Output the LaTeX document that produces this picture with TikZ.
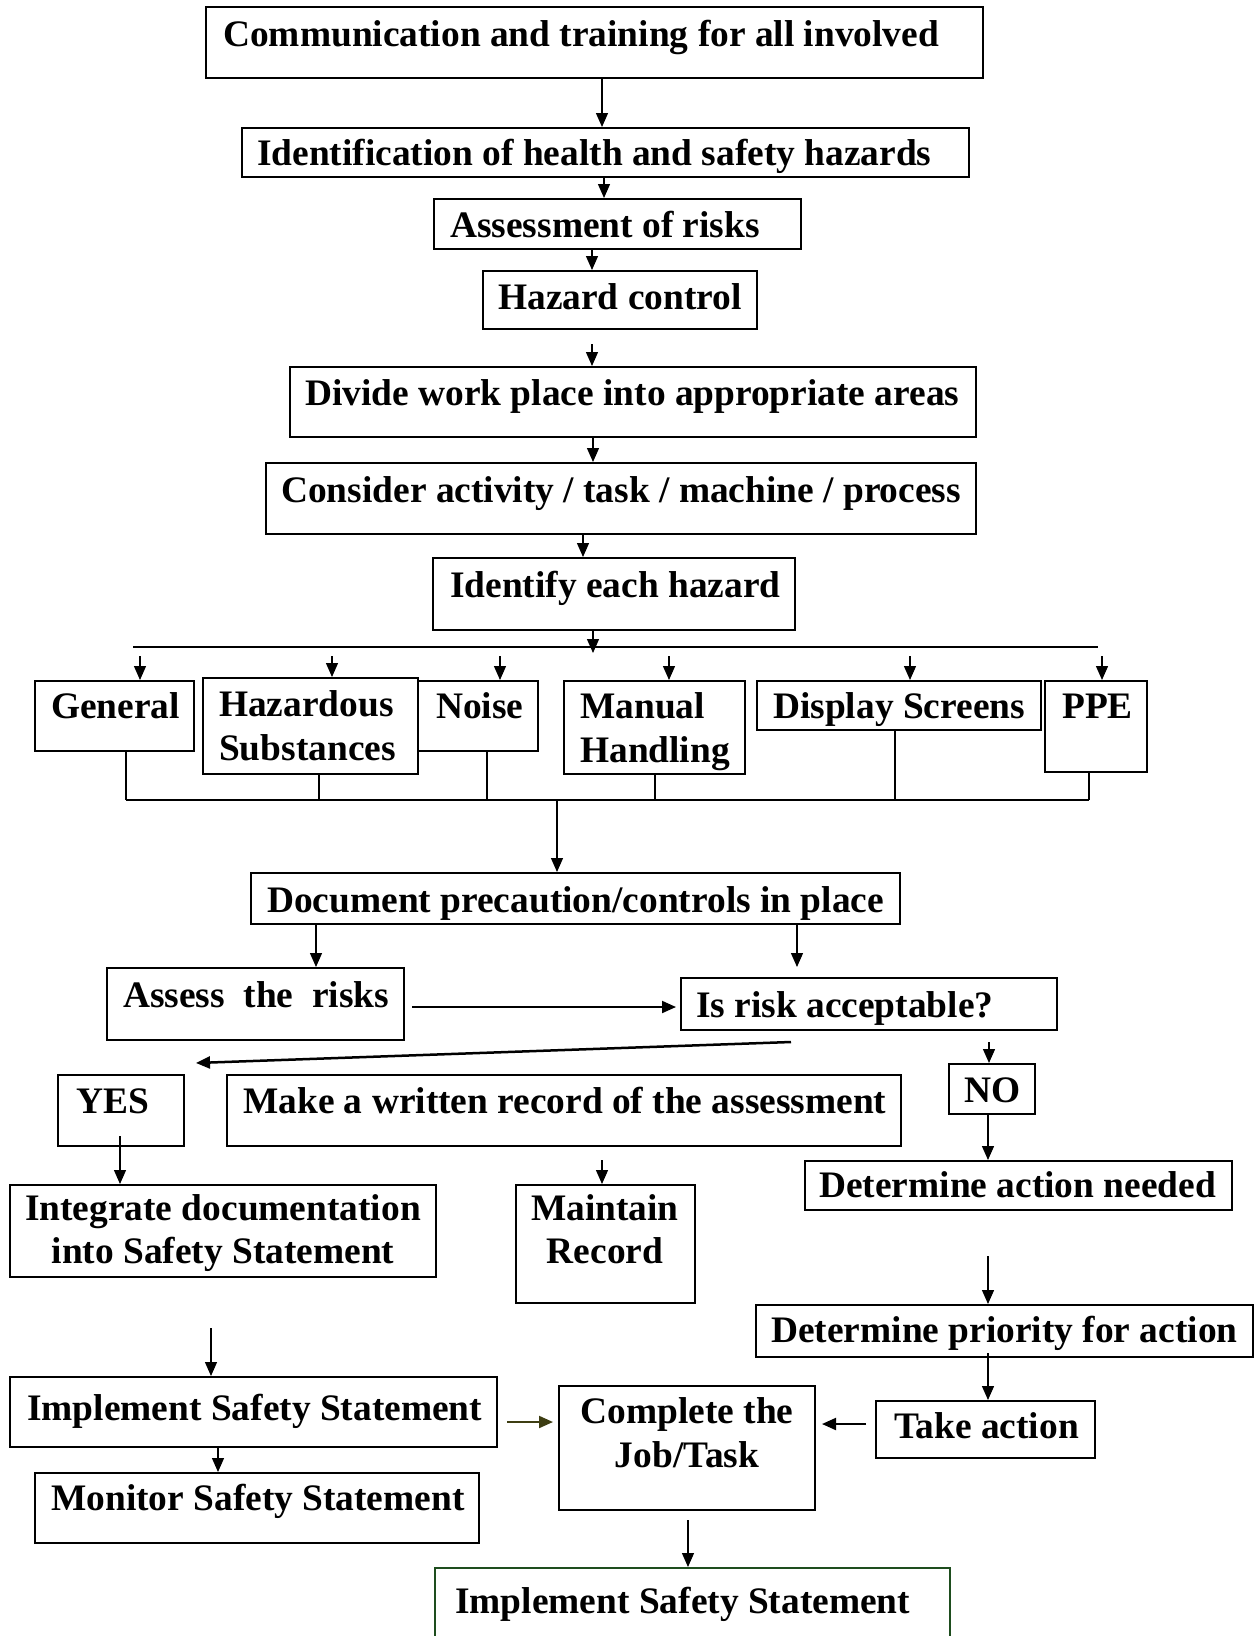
\documentclass[tikz,border=0pt]{standalone}
\usepackage{fontspec}
\setmainfont{Liberation Serif}
\usetikzlibrary{arrows.meta,fit,calc}

\definecolor{olivearrow}{HTML}{3D3D12}
\definecolor{darkframe}{HTML}{1E4D1E}

\tikzset{
    hzbox/.style={draw, line width=2pt, inner sep=0pt},
    hztext/.style={inner sep=0pt, font=\fontsize{37.4}{43}\selectfont\bfseries},
    link/.style={line width=1.3pt, -{Triangle[length=14pt,width=12pt]}},
    joint/.style={line width=1.3pt},
    bus/.style={line width=2pt},
}

% box from top-left to bottom-right corner
\newcommand{\flowrect}[4][]{\node[hzbox,#1, fit={(#3) (#4)}] (#2) {};}

\begin{document}
\begin{tikzpicture}[x=1pt, y=-1pt]
        \useasboundingbox (0,0) rectangle (1255,1636);
        \clip (0,0) rectangle (1255,1636);

        % upper chain
        \flowrect{comm}{206,7}{983,78}
        \flowrect{ident}{242,128}{969,177}
        \flowrect{assess}{434,199}{801,249}
        \flowrect{hzctl}{483,271}{757,329}
        \flowrect{divide}{290,367}{976,437}
        \flowrect{consider}{266,463}{976,534}
        \flowrect{identify}{433,558}{795,630}

        \node[hztext, anchor=base west] (comm-t) at (223,46) {Communication and training for all involved};
        \node[hztext, anchor=base west] (ident-t) at (257,165) {Identification of health and safety hazards};
        \node[hztext, anchor=base west] (assess-t) at (450,237) {Assessment of risks};
        \node[hztext, anchor=base west] (hzctl-t) at (498,309) {Hazard control};
        \node[hztext, anchor=base west] (divide-t) at (305,405) {Divide work place into appropriate areas};
        \node[hztext, anchor=base west] (consider-t) at (281,502) {Consider activity / task / machine / process};
        \node[hztext, anchor=base west] (identify-t) at (450,597) {Identify each hazard};

        \draw[link] (602,0 |- comm.south) -- (602,0 |- ident.north);
        \draw[link] (604,0 |- ident.south) -- (604,0 |- assess.north);
        \draw[link] (592,0 |- assess.south) -- (592,0 |- hzctl.north);
        \draw[link, shorten <=14pt] (592,0 |- hzctl.south) -- (592,0 |- divide.north);
        \draw[link] (593,0 |- divide.south) -- (593,0 |- consider.north);
        \draw[link] (583,0 |- consider.south) -- (583,0 |- identify.north);

        % hazard groups
        \coordinate (splitL) at (133,647);
        \coordinate (splitR) at (1098,647);
        \coordinate (splitmid) at (593,653);
        \draw[bus] (splitL) -- (splitR);
        \draw[link] (593,0 |- identify.south) -- (splitmid);

        \flowrect{general}{35,681}{194,751}
        \flowrect{hazsub}{203,678}{418,774}
        \flowrect{noise}{418,681}{538,751}
        \flowrect{manual}{564,681}{745,774}
        \flowrect{display}{757,681}{1041,730}
        \flowrect{ppe}{1045,681}{1147,772}

        \node[hztext, anchor=base west] (general-t) at (51,718) {General};
        \node[hztext, anchor=base west] (hazsub-t) at (219,716) {Hazardous};
        \node[hztext, anchor=base west] (hazsub-t2) at (219,760) {Substances};
        \node[hztext, anchor=base west] (noise-t) at (436,718) {Noise};
        \node[hztext, anchor=base west] (manual-t) at (580,718) {Manual};
        \node[hztext, anchor=base west] (manual-t2) at (580,762) {Handling};
        \node[hztext, anchor=base west] (display-t) at (773,718) {Display Screens};
        \node[hztext, anchor=base west] (ppe-t) at (1062,718) {PPE};

        \foreach \x/\b in {140/general, 332/hazsub, 500/noise, 669/manual, 910/display, 1102/ppe}
            \draw[link, shorten <=9pt] (\x,0 |- splitL) -- (\x,0 |- \b.north);

        \coordinate (busL) at (126,800);
        \coordinate (busR) at (1089,800);
        \foreach \x/\b in {126/general, 319/hazsub, 487/noise, 655/manual, 895/display, 1089/ppe}
            \draw[joint] (\x,0 |- \b.south) -- (\x,0 |- busL);
        \draw[bus] (busL) -- (busR);

        % documenting and assessing
        \flowrect{document}{251,873}{900,924}
        \flowrect{assessrisk}{107,968}{404,1040}
        \flowrect{isrisk}{681,978}{1057,1030}
        \flowrect{yes}{58,1075}{184,1146}
        \flowrect{record}{227,1075}{901,1146}
        \flowrect{no}{949,1064}{1035,1114}

        \node[hztext, anchor=base west] (document-t) at (267,912) {Document precaution/controls in place};
        \node[hztext, anchor=base west] (assessrisk-t) at (123,1007) {Assess\ \ the\ \ risks};
        \node[hztext, anchor=base west] (isrisk-t) at (696,1017) {Is risk acceptable?};
        \node[hztext, anchor=base west] (yes-t) at (76,1113) {YES};
        \node[hztext, anchor=base west] (record-t) at (243,1113) {Make a written record of the assessment};
        \node[hztext, anchor=base west] (no-t) at (964,1102) {NO};

        \draw[link] (557,0 |- busL) -- (557,0 |- document.north);
        \draw[link] (316,0 |- document.south) -- (316,0 |- assessrisk.north);
        \draw[link, shorten >=10pt] (797,0 |- document.south) -- (797,0 |- isrisk.north);
        \draw[link, line width=2pt, shorten <=7pt, shorten >=4pt] (assessrisk.east |- 0,1007) -- (isrisk.west |- 0,1007);
        \draw[link, line width=2.5pt] ($(isrisk.south)+(-78,11)$) -- ($(yes.north east)+(11,-11)$);
        \draw[link, shorten <=11pt] (989,0 |- isrisk.south) -- (989,0 |- no.north);

        % lower part
        \flowrect{integrate}{10,1185}{436,1277}
        \flowrect{maintain}{516,1185}{695,1303}
        \flowrect{action}{805,1161}{1232,1210}
        \flowrect{priority}{756,1305}{1253,1357}
        \flowrect{implement}{10,1377}{497,1447}
        \flowrect{complete}{559,1386}{815,1510}
        \flowrect{takeaction}{876,1401}{1095,1458}
        \flowrect{monitor}{35,1473}{479,1543}
        \flowrect[darkframe]{final}{435,1568}{950,1680}

        \node[hztext, anchor=base] (integrate-t) at (223,1220) {Integrate documentation};
        \node[hztext, anchor=base] (integrate-t2) at (223,1263) {into Safety Statement};
        \node[hztext, anchor=base] (maintain-t) at (605,1220) {Maintain};
        \node[hztext, anchor=base] (maintain-t2) at (605,1263) {Record};
        \node[hztext, anchor=base west] (action-t) at (819,1197) {Determine action needed};
        \node[hztext, anchor=base west] (priority-t) at (771,1342) {Determine priority for action};
        \node[hztext, anchor=base west] (implement-t) at (27,1420) {Implement Safety Statement};
        \node[hztext, anchor=base] (complete-t) at (687,1423) {Complete the};
        \node[hztext, anchor=base] (complete-t2) at (687,1467) {Job/Task};
        \node[hztext, anchor=base west] (takeaction-t) at (894,1438) {Take action};
        \node[hztext, anchor=base west] (monitor-t) at (51,1510) {Monitor Safety Statement};
        \node[hztext, anchor=base west] (final-t) at (455,1613) {Implement Safety Statement};

        \draw[link, shorten <=-11pt] (120,0 |- yes.south) -- (120,0 |- integrate.north);
        \draw[link, shorten <=13pt] (602,0 |- record.south) -- (602,0 |- maintain.north);
        \draw[link] (988,0 |- no.south) -- (988,0 |- action.north);
        \draw[link, shorten <=45pt] (988,0 |- action.south) -- (988,0 |- priority.north);
        \draw[link, shorten <=50pt] (211,0 |- integrate.south) -- (211,0 |- implement.north);
        \draw[link, shorten <=-5pt] (988,0 |- priority.south) -- (988,0 |- takeaction.north);
        \draw[link, line width=2pt, shorten <=9pt, shorten >=6pt] (takeaction.west |- 0,1424) -- (complete.east |- 0,1424);
        \draw[link, olivearrow, line width=2pt, shorten <=9pt, shorten >=5pt] (implement.east |- 0,1422) -- (complete.west |- 0,1422);
        \draw[link] (218,0 |- implement.south) -- (218,0 |- monitor.north);
        \draw[link, shorten <=9pt] (688,0 |- complete.south) -- (688,0 |- final.north);

    \end{tikzpicture}
\end{document}
